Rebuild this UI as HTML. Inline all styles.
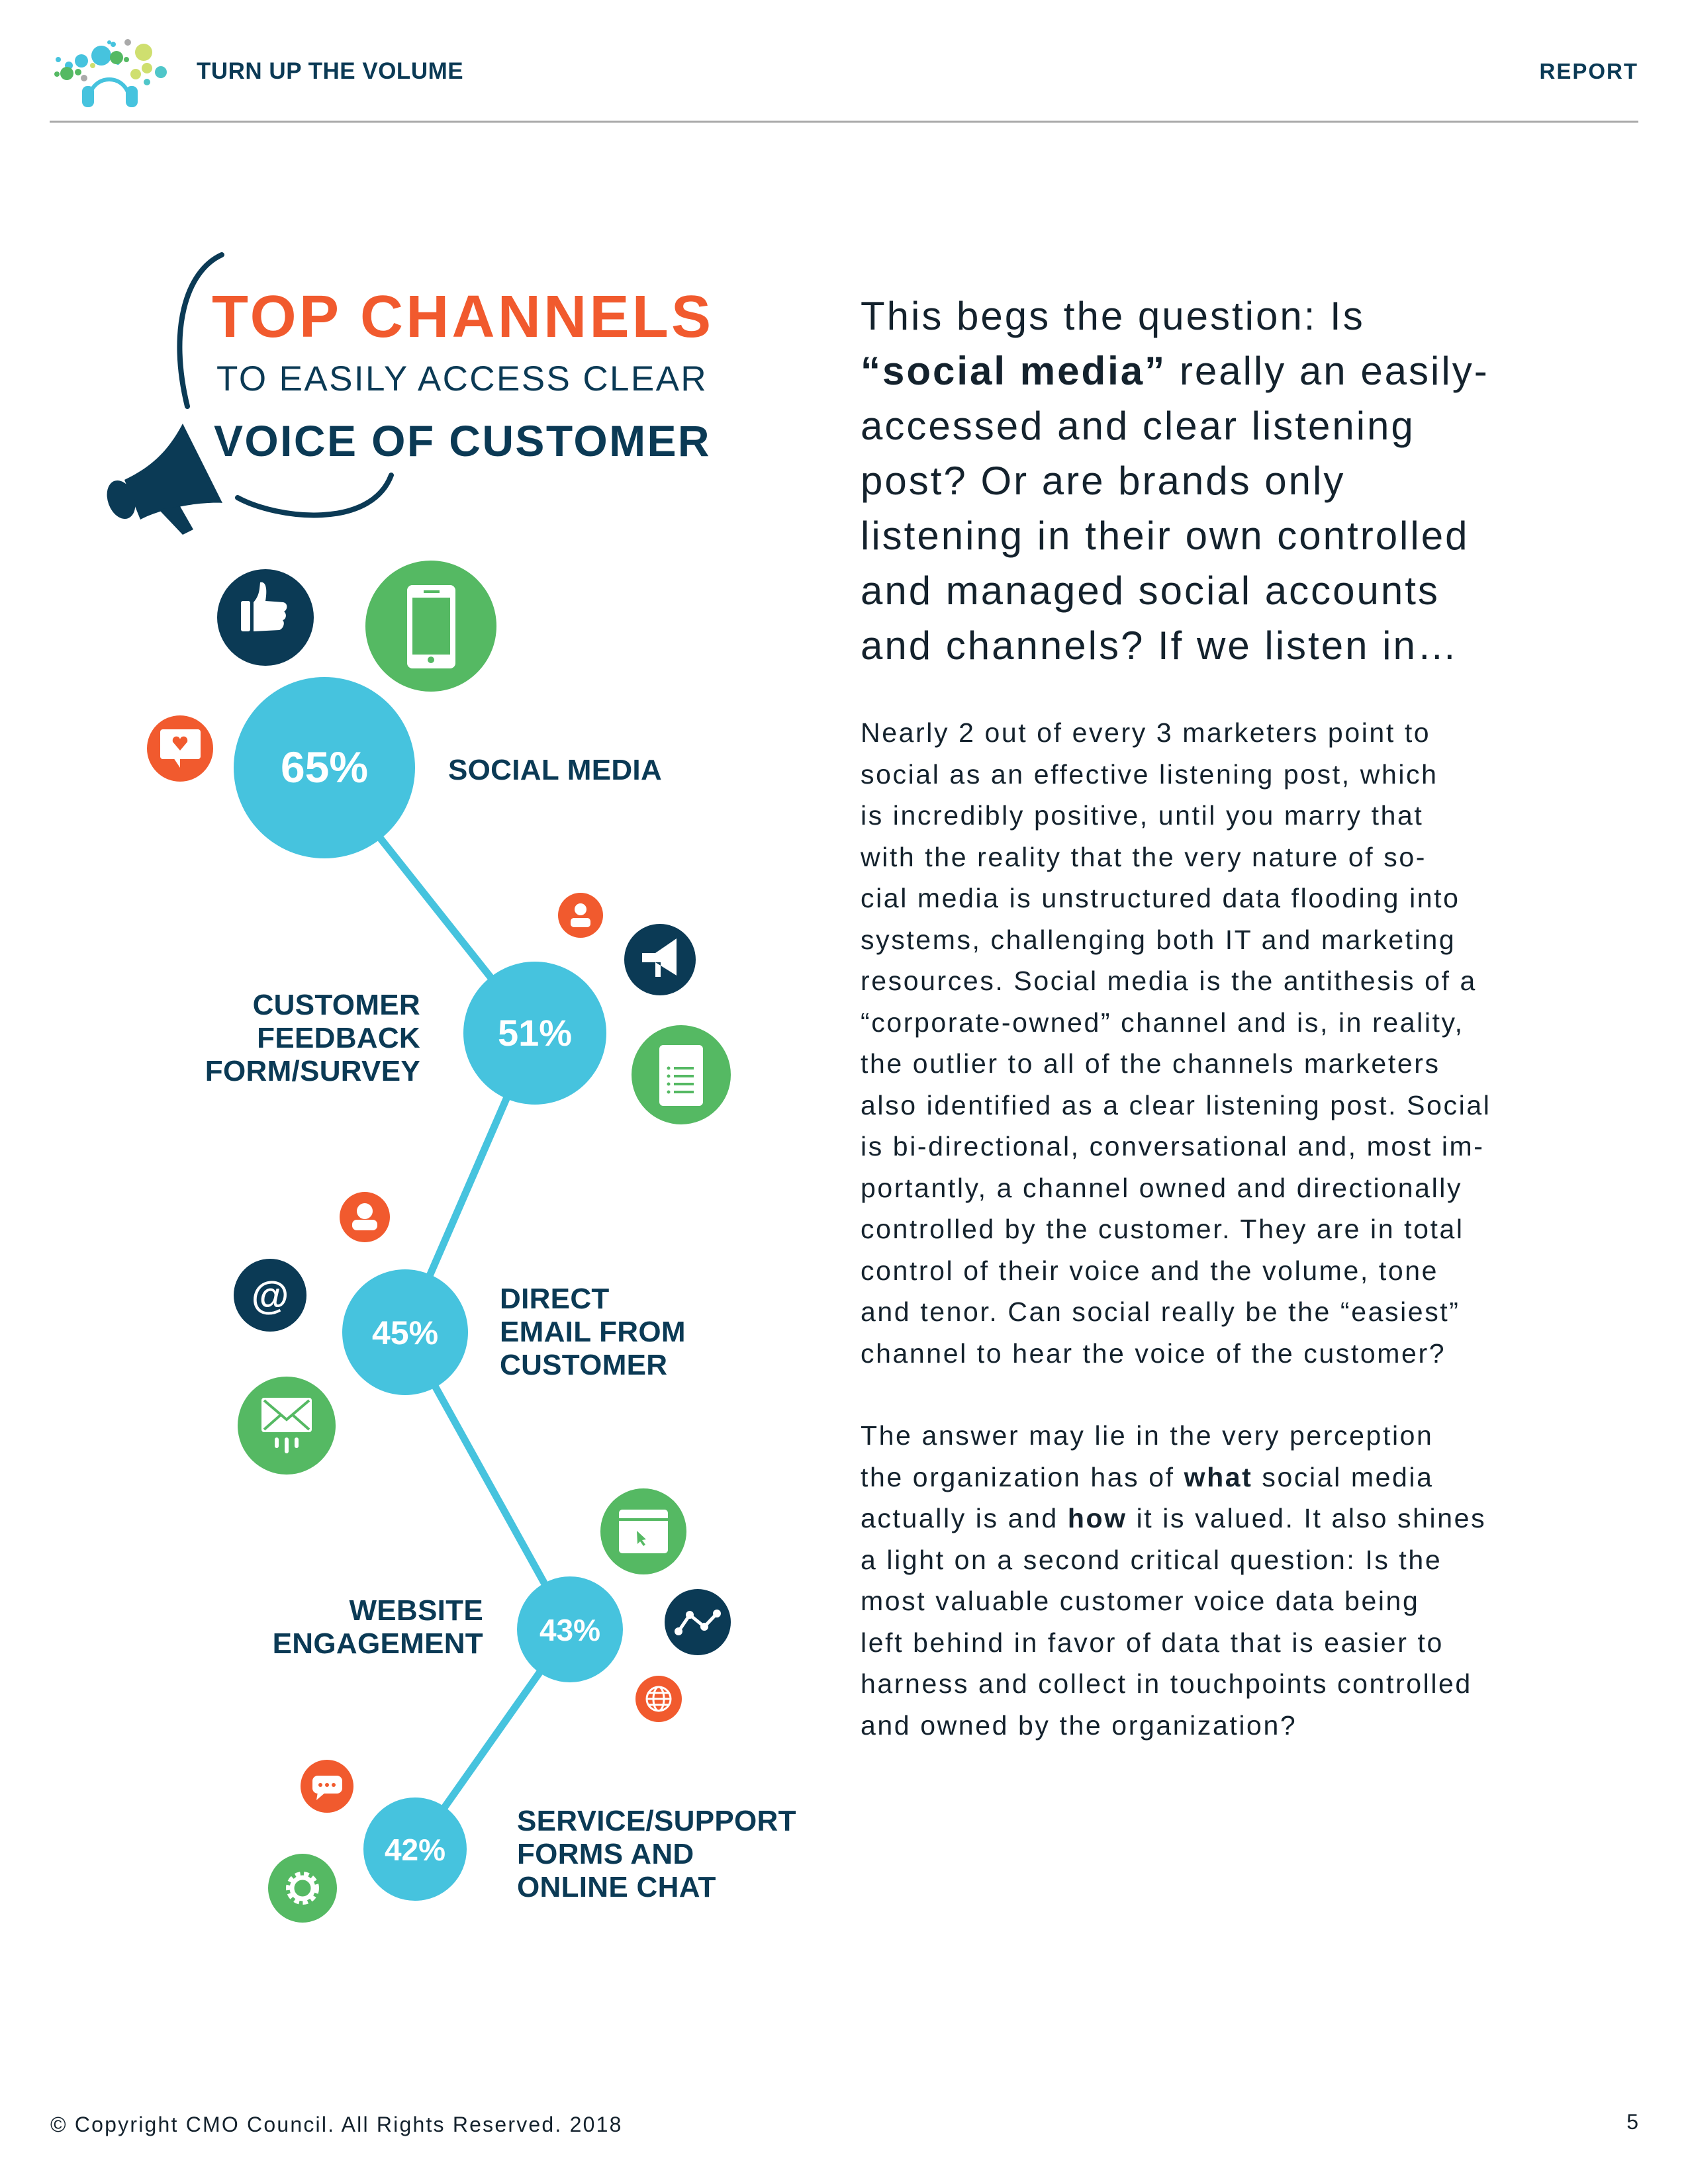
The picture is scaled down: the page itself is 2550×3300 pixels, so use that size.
<!DOCTYPE html>
<html><head><meta charset="utf-8"><style>
body{margin:0;background:#fff;}
#p{position:relative;width:2550px;height:3300px;overflow:hidden;background:#fff;font-family:"Liberation Sans",sans-serif;}
.a{position:absolute;white-space:nowrap;}
.nv{color:#0b3a55;}
.lab{font-size:44px;line-height:50px;font-weight:bold;color:#0b3a55;letter-spacing:0.3px;}
.big{font-size:60px;line-height:83px;color:#14222d;letter-spacing:3px;}
.body{font-size:41px;line-height:62.5px;color:#14222d;letter-spacing:2.6px;}
</style></head><body><div id="p">
<svg class="a" style="left:0;top:0" width="2550" height="3300" viewBox="0 0 2550 3300">
<g>
<circle cx="153" cy="84" r="15" fill="#46c3de"/><circle cx="123" cy="92" r="10" fill="#46c3de"/><circle cx="104" cy="99" r="6" fill="#46c3de"/><circle cx="88" cy="90" r="4" fill="#46c3de"/>
<circle cx="101" cy="111" r="10" fill="#55b963"/><circle cx="118" cy="109" r="5" fill="#55b963"/><circle cx="86" cy="112" r="4" fill="#55b963"/>
<circle cx="174" cy="87" r="6" fill="#46c3de"/><circle cx="171" cy="67" r="4" fill="#46c3de"/><circle cx="178" cy="95" r="3" fill="#46c3de"/>
<circle cx="176" cy="87" r="10" fill="#55b963"/><circle cx="191" cy="90" r="4" fill="#55b963"/>
<circle cx="217" cy="79" r="13" fill="#cfdf6f"/><circle cx="222" cy="103" r="8" fill="#cfdf6f"/><circle cx="205" cy="112" r="8" fill="#cfdf6f"/>
<circle cx="243" cy="109" r="9" fill="#4fc6c9"/><circle cx="222" cy="124" r="5" fill="#4fc6c9"/><circle cx="193" cy="64" r="5" fill="#aaa"/><circle cx="127" cy="118" r="5" fill="#aaa"/>
<circle cx="140" cy="99" r="4" fill="#cfdf6f"/><circle cx="165" cy="64" r="3" fill="#46c3de"/>
<path d="M135 150 A30 30 0 0 1 195 150" fill="none" stroke="#46c3de" stroke-width="6"/>
<rect x="124" y="130" width="18" height="32" rx="8" fill="#46c3de"/><rect x="190" y="130" width="18" height="32" rx="8" fill="#46c3de"/>
</g>
<line x1="75" y1="184" x2="2475" y2="184" stroke="#aaa" stroke-width="3"/>
<path d="M335 385 C280 410 255 500 283 614" fill="none" stroke="#0b3a55" stroke-width="8" stroke-linecap="round"/>
<path d="M359 752 C420 785 560 800 591 718" fill="none" stroke="#0b3a55" stroke-width="8" stroke-linecap="round"/>
<g fill="#0b3a55">
<path d="M276 640 L336 760 C310 758 250 765 212 785 L188 725 C230 705 255 680 276 640Z"/>
<ellipse cx="183" cy="755" rx="20" ry="30" transform="rotate(-20 183 755)"/>
<path d="M240 770 L272 765 L292 800 L276 808Z"/>
</g>
<polyline points="490,1160 808,1561 612,2013 861,2462 627,2794" fill="none" stroke="#46c3de" stroke-width="11"/>
<g fill="#46c3de"><circle cx="490" cy="1160" r="137"/><circle cx="808" cy="1561" r="108"/><circle cx="612" cy="2013" r="95"/><circle cx="861" cy="2462" r="80"/><circle cx="627" cy="2794" r="78"/></g>
<circle cx="401" cy="933" r="73" fill="#0b3a55"/>
<rect x="364" y="908" width="14" height="46" rx="3" fill="#fff"/><path d="M383 954 L383 910 C392 900 392 890 393 880 C402 878 404 890 401 908 L428 910 C436 912 434 922 429 924 C434 928 432 936 427 937 C431 941 428 950 422 952Z" fill="#fff"/>
<circle cx="651" cy="946" r="99" fill="#55b963"/>
<rect x="615" y="884" width="73" height="126" rx="8" fill="#fff"/><rect x="623" y="903" width="57" height="86" fill="#55b963"/><circle cx="651" cy="997" r="5" fill="#55b963"/><rect x="640" y="892" width="24" height="4" fill="#55b963"/>
<circle cx="272" cy="1131" r="50" fill="#f15a2e"/>
<rect x="242" y="1102" width="61" height="45" rx="4" fill="#fff"/><path d="M262 1145 L272 1160 L272 1145Z" fill="#fff"/><path d="M272 1134 L261 1121 C259 1112 270 1110 272 1117 C274 1110 285 1112 283 1121Z" fill="#f15a2e"/>
<circle cx="877" cy="1383" r="34" fill="#f15a2e"/><circle cx="877" cy="1374" r="9" fill="#fff"/><rect x="862" y="1387" width="30" height="14" rx="5" fill="#fff"/>
<circle cx="997" cy="1450" r="54" fill="#0b3a55"/><path d="M970 1440 L990 1440 L1022 1418 L1022 1474 L990 1454 L970 1454Z M990 1454 L990 1476 L998 1476 L998 1454Z" fill="#fff"/>
<circle cx="1029" cy="1624" r="75" fill="#55b963"/><rect x="996" y="1579" width="66" height="92" rx="6" fill="#fff"/>
<g fill="#55b963"><circle cx="1010" cy="1614" r="2.5"/><circle cx="1010" cy="1626" r="2.5"/><circle cx="1010" cy="1638" r="2.5"/><circle cx="1010" cy="1650" r="2.5"/><rect x="1018" y="1612" width="30" height="4"/><rect x="1018" y="1624" width="30" height="4"/><rect x="1018" y="1636" width="30" height="4"/><rect x="1018" y="1648" width="30" height="4"/></g>
<circle cx="551" cy="1839" r="38" fill="#f15a2e"/><circle cx="551" cy="1830" r="12" fill="#fff"/><rect x="532" y="1843" width="38" height="16" rx="7" fill="#fff"/>
<circle cx="408" cy="1957" r="55" fill="#0b3a55"/><text x="408" y="1977" font-size="58" font-weight="bold" fill="#fff" text-anchor="middle" font-family="Liberation Sans">@</text>
<circle cx="433" cy="2154" r="74" fill="#55b963"/><rect x="395" y="2112" width="76" height="52" rx="4" fill="#fff"/><path d="M399 2116 L433 2145 L467 2116 M399 2160 L425 2137 M467 2160 L441 2137" fill="none" stroke="#55b963" stroke-width="4"/>
<rect x="415" y="2172" width="6" height="16" rx="3" fill="#fff"/><rect x="430" y="2172" width="6" height="24" rx="3" fill="#fff"/><rect x="445" y="2172" width="6" height="16" rx="3" fill="#fff"/>
<circle cx="972" cy="2314" r="65" fill="#55b963"/><rect x="935" y="2281" width="74" height="66" rx="5" fill="#fff"/><rect x="935" y="2294" width="74" height="4" fill="#55b963"/><path d="M962 2313 L976 2326 L970 2327 L975 2334 L972 2336 L967 2329 L963 2333Z" fill="#55b963"/>
<circle cx="1054" cy="2451" r="50" fill="#0b3a55"/><polyline points="1025,2465 1042,2440 1064,2458 1083,2438" fill="none" stroke="#fff" stroke-width="5"/><g fill="#fff"><circle cx="1025" cy="2465" r="6"/><circle cx="1042" cy="2440" r="6"/><circle cx="1064" cy="2458" r="6"/><circle cx="1083" cy="2438" r="6"/></g>
<circle cx="995" cy="2567" r="35" fill="#f15a2e"/><g fill="none" stroke="#fff" stroke-width="3"><circle cx="995" cy="2567" r="18"/><ellipse cx="995" cy="2567" rx="8" ry="18"/><line x1="977" y1="2567" x2="1013" y2="2567"/><line x1="980" y1="2558" x2="1010" y2="2558"/><line x1="980" y1="2576" x2="1010" y2="2576"/></g>
<circle cx="494" cy="2699" r="40" fill="#f15a2e"/><rect x="472" y="2683" width="45" height="27" rx="8" fill="#fff"/><path d="M480 2708 L478 2720 L492 2708Z" fill="#fff"/><g fill="#f15a2e"><circle cx="484" cy="2697" r="3"/><circle cx="494" cy="2697" r="3"/><circle cx="504" cy="2697" r="3"/></g>
<circle cx="457" cy="2853" r="52" fill="#55b963"/><circle cx="457" cy="2853" r="20" fill="none" stroke="#fff" stroke-width="10" stroke-dasharray="7 5"/><circle cx="457" cy="2853" r="16" fill="none" stroke="#fff" stroke-width="7"/><circle cx="457" cy="2853" r="7" fill="#55b963"/>
<g fill="#fff" font-family="Liberation Sans" font-weight="bold" text-anchor="middle">
<text x="490" y="1182" font-size="66">65%</text><text x="808" y="1580" font-size="56">51%</text><text x="612" y="2031" font-size="50">45%</text><text x="861" y="2479" font-size="46">43%</text><text x="627" y="2811" font-size="46">42%</text>
</g>
</svg>
<div class="a nv" style="left:297px;top:86px;font-size:35px;font-weight:bold;letter-spacing:0.5px;line-height:44px">TURN UP THE VOLUME</div>
<div class="a nv" style="right:75px;top:86px;font-size:33px;font-weight:bold;letter-spacing:2px;line-height:44px">REPORT</div>
<div class="a" style="left:320px;top:424px;font-size:90px;line-height:110px;font-weight:bold;color:#f15a2e;letter-spacing:4.3px">TOP CHANNELS</div>
<div class="a nv" style="left:327px;top:541px;font-size:53px;line-height:64px;letter-spacing:2.4px">TO EASILY ACCESS CLEAR</div>
<div class="a nv" style="left:323px;top:626px;font-size:66px;line-height:80px;font-weight:bold;letter-spacing:2.4px">VOICE OF CUSTOMER</div>
<div class="a lab" style="left:677px;top:1139px">SOCIAL MEDIA</div>
<div class="a lab" style="right:1915px;top:1494px;text-align:right">CUSTOMER<br>FEEDBACK<br>FORM/SURVEY</div>
<div class="a lab" style="left:755px;top:1938px">DIRECT<br>EMAIL FROM<br>CUSTOMER</div>
<div class="a lab" style="right:1820px;top:2409px;text-align:right">WEBSITE<br>ENGAGEMENT</div>
<div class="a lab" style="left:781px;top:2727px">SERVICE/SUPPORT<br>FORMS AND<br>ONLINE CHAT</div>
<div class="a big" style="left:1300px;top:436px">This begs the question: Is<br><b>“social media”</b> really an easily-<br>accessed and clear listening<br>post? Or are brands only<br>listening in their own controlled<br>and managed social accounts<br>and channels? If we listen in…</div>
<div class="a body" style="left:1300px;top:1076px">Nearly 2 out of every 3 marketers point to<br>social as an effective listening post, which<br>is incredibly positive, until you marry that<br>with the reality that the very nature of so-<br>cial media is unstructured data flooding into<br>systems, challenging both IT and marketing<br>resources. Social media is the antithesis of a<br>“corporate-owned” channel and is, in reality,<br>the outlier to all of the channels marketers<br>also identified as a clear listening post. Social<br>is bi-directional, conversational and, most im-<br>portantly, a channel owned and directionally<br>controlled by the customer. They are in total<br>control of their voice and the volume, tone<br>and tenor. Can social really be the “easiest”<br>channel to hear the voice of the customer?</div>
<div class="a body" style="left:1300px;top:2138px">The answer may lie in the very perception<br>the organization has of <b>what</b> social media<br>actually is and <b>how</b> it is valued. It also shines<br>a light on a second critical question: Is the<br>most valuable customer voice data being<br>left behind in favor of data that is easier to<br>harness and collect in touchpoints controlled<br>and owned by the organization?</div>
<div class="a" style="left:76px;top:3190px;font-size:32px;line-height:40px;color:#14222d;letter-spacing:2.2px">© Copyright CMO Council. All Rights Reserved. 2018</div>
<div class="a" style="right:75px;top:3186px;font-size:32px;line-height:40px;color:#14222d">5</div>
</div></body></html>
